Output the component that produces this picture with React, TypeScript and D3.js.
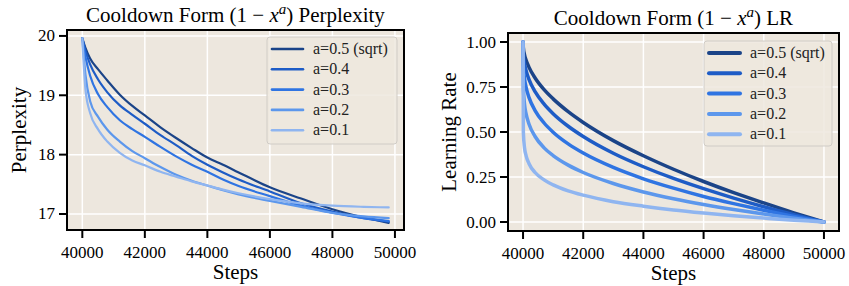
import React from 'react';
import * as d3 from 'd3';

// series labels and colours
const seriesLabels = ['a=0.5 (sqrt)', 'a=0.4', 'a=0.3', 'a=0.2', 'a=0.1'];
const seriesColors = ['#1b4488', '#1e5cc6', '#2f74e2', '#5c97ec', '#8fb5f0'];

// left panel: perplexity
const pplSteps = [40000, 40100, 40250, 40500, 40800, 41200, 41600, 42000, 42500, 43000, 43500, 44000, 44500, 45000, 46000, 47000, 48000, 49000, 49800];
const ppl05 = [19.96, 19.80, 19.62, 19.44, 19.25, 19.01, 18.82, 18.66, 18.46, 18.28, 18.11, 17.95, 17.83, 17.70, 17.45, 17.26, 17.08, 16.94, 16.85];
const ppl04 = [19.96, 19.75, 19.52, 19.27, 19.05, 18.83, 18.67, 18.52, 18.33, 18.16, 17.98, 17.83, 17.70, 17.58, 17.38, 17.18, 17.04, 16.93, 16.87];
const ppl03 = [19.96, 19.65, 19.33, 19.02, 18.80, 18.58, 18.43, 18.30, 18.13, 17.97, 17.83, 17.71, 17.58, 17.47, 17.30, 17.14, 17.02, 16.93, 16.88];
const ppl02 = [19.96, 19.35, 18.90, 18.64, 18.42, 18.22, 18.06, 17.94, 17.79, 17.66, 17.56, 17.48, 17.40, 17.33, 17.22, 17.12, 17.02, 16.96, 16.93];
const ppl01 = [19.96, 19.10, 18.70, 18.43, 18.22, 18.03, 17.90, 17.82, 17.71, 17.63, 17.55, 17.48, 17.41, 17.35, 17.25, 17.18, 17.14, 17.12, 17.11];

// right panel: learning rate
const lrSteps = [40000, 40010, 40050, 40100, 40200, 40400, 40700, 41000, 41500, 42000, 43000, 44000, 45000, 46000, 47000, 48000, 49000, 49500, 50000];
const lr05 = [1, 0.968, 0.929, 0.900, 0.859, 0.800, 0.735, 0.684, 0.613, 0.553, 0.452, 0.368, 0.293, 0.225, 0.163, 0.106, 0.051, 0.025, 0];
const lr04 = [1, 0.937, 0.880, 0.842, 0.791, 0.724, 0.655, 0.602, 0.532, 0.475, 0.382, 0.307, 0.242, 0.185, 0.133, 0.085, 0.041, 0.020, 0];
const lr03 = [1, 0.874, 0.796, 0.749, 0.691, 0.619, 0.550, 0.499, 0.434, 0.383, 0.303, 0.240, 0.188, 0.142, 0.102, 0.065, 0.031, 0.015, 0];
const lr02 = [1, 0.749, 0.653, 0.602, 0.543, 0.475, 0.412, 0.369, 0.316, 0.275, 0.214, 0.167, 0.129, 0.097, 0.069, 0.044, 0.021, 0.010, 0];
const lr01 = [1, 0.499, 0.411, 0.369, 0.324, 0.275, 0.234, 0.206, 0.173, 0.149, 0.113, 0.088, 0.067, 0.050, 0.035, 0.022, 0.010, 0.005, 0];

const xTicks = [40000, 42000, 44000, 46000, 48000, 50000];
const pplTicks = [17, 18, 19, 20];
const lrTicks = [0, 0.25, 0.5, 0.75, 1];

const FONT = '"Liberation Serif", "DejaVu Serif", serif';
const BG = '#ede7de';

type PanelProps = {
  box: { left: number; right: number; top: number; bottom: number };
  xDomain: [number, number];
  yDomain: [number, number];
  yTicks: number[];
  yFmt: (v: number) => string;
  steps: number[];
  series: number[][];
  titleTail: string;
  yLabel: string;
  yLabelOff: number;
  lineW: number;
  legendW: number;
  legend: { x: number; y: number; w: number; h: number };
};

const Panel = ({ box, xDomain, yDomain, yTicks, yFmt, steps, series, titleTail, yLabel, yLabelOff, lineW, legendW, legend }: PanelProps) => {
  const x = d3.scaleLinear().domain(xDomain).range([box.left, box.right]);
  const y = d3.scaleLinear().domain(yDomain).range([box.bottom, box.top]);
  const line = d3
    .line<number>()
    .x((_, i) => x(steps[i]))
    .y((d) => y(d))
    .curve(d3.curveMonotoneX);
  const cx = (box.left + box.right) / 2;
  const cy = (box.top + box.bottom) / 2;
  const clipId = 'clip' + yLabel.replace(/\s/g, '');

  return (
    <g>
      <defs>
        <clipPath id={clipId}>
          <rect x={box.left} y={box.top} width={box.right - box.left} height={box.bottom - box.top} />
        </clipPath>
      </defs>
      <rect x={box.left} y={box.top} width={box.right - box.left} height={box.bottom - box.top} fill={BG} />
      {/* grid */}
      {xTicks.map((t) => (
        <line key={'gx' + t} x1={x(t)} x2={x(t)} y1={box.top} y2={box.bottom} stroke="#fff" strokeWidth={1.5} />
      ))}
      {yTicks.map((t) => (
        <line key={'gy' + t} x1={box.left} x2={box.right} y1={y(t)} y2={y(t)} stroke="#fff" strokeWidth={1.5} />
      ))}
      {/* lines */}
      <g clipPath={`url(#${clipId})`}>
        {series.map((s, i) => (
          <path key={i} d={line(s) || ''} fill="none" stroke={seriesColors[i]} strokeWidth={lineW} strokeLinecap="round" strokeLinejoin="round" />
        ))}
      </g>
      {/* frame */}
      <rect x={box.left} y={box.top} width={box.right - box.left} height={box.bottom - box.top} fill="none" stroke="#000" strokeWidth={2} />
      {/* x ticks */}
      {xTicks.map((t) => (
        <g key={'tx' + t}>
          <line x1={x(t)} x2={x(t)} y1={box.bottom} y2={box.bottom + 8} stroke="#000" strokeWidth={2} />
          <text x={x(t)} y={box.bottom + 28} textAnchor="middle" fontSize={17} fontFamily={FONT}>
            {t}
          </text>
        </g>
      ))}
      {/* y ticks */}
      {yTicks.map((t) => (
        <g key={'ty' + t}>
          <line x1={box.left - 8} x2={box.left} y1={y(t)} y2={y(t)} stroke="#000" strokeWidth={2} />
          <text x={box.left - 12} y={y(t) + 5.5} textAnchor="end" fontSize={17} fontFamily={FONT}>
            {yFmt(t)}
          </text>
        </g>
      ))}
      {/* labels */}
      <text x={cx} y={box.bottom + 49} textAnchor="middle" fontSize={21} fontFamily={FONT}>
        Steps
      </text>
      <text
        transform={`translate(${box.left - yLabelOff},${cy}) rotate(-90)`}
        textAnchor="middle"
        fontSize={21}
        fontFamily={FONT}
      >
        {yLabel}
      </text>
      <text x={cx} y={box.top - 8} textAnchor="middle" fontSize={21} fontFamily={FONT}>
        Cooldown Form (1 − <tspan fontStyle="italic">x</tspan>
        <tspan fontStyle="italic" fontSize={15} dy={-8}>a</tspan>
        <tspan dy={8}>) {titleTail}</tspan>
      </text>
      {/* legend */}
      <rect x={legend.x} y={legend.y} width={legend.w} height={legend.h} rx={3} fill={BG} fillOpacity={0.85} stroke="#d0ccc6" strokeWidth={1} />
      {seriesLabels.map((lab, i) => {
        const ry = legend.y + 12 + i * 20.3;
        return (
          <g key={lab}>
            <line x1={legend.x + 5} x2={legend.x + 36} y1={ry} y2={ry} stroke={seriesColors[i]} strokeWidth={legendW} strokeLinecap="round" />
            <text x={legend.x + 46} y={ry + 5} fontSize={16} fontFamily={FONT} fill="#222">
              {lab}
            </text>
          </g>
        );
      })}
    </g>
  );
};

export default function App() {
  return (
    <svg width={849} height={286} style={{ display: 'block', position: 'absolute', left: 0, top: 0, background: '#fff' }}>
      <Panel
        box={{ left: 67, right: 404, top: 30, bottom: 230 }}
        xDomain={[39510, 50290]}
        yDomain={[16.73, 20.1]}
        yTicks={pplTicks}
        yFmt={(v) => String(v)}
        steps={pplSteps}
        series={[ppl05, ppl04, ppl03, ppl02, ppl01]}
        titleTail="Perplexity"
        yLabel="Perplexity"
        yLabelOff={41}
        lineW={2.2}
        legendW={2.6}
        legend={{ x: 267, y: 37, w: 130, h: 107 }}
      />
      <Panel
        box={{ left: 508, right: 839, top: 33, bottom: 231 }}
        xDomain={[39500, 50500]}
        yDomain={[-0.05, 1.05]}
        yTicks={lrTicks}
        yFmt={(v) => v.toFixed(2)}
        steps={lrSteps}
        series={[lr05, lr04, lr03, lr02, lr01]}
        titleTail="LR"
        yLabel="Learning Rate"
        yLabelOff={52}
        lineW={3.5}
        legendW={4}
        legend={{ x: 704, y: 41, w: 128, h: 105 }}
      />
    </svg>
  );
}
